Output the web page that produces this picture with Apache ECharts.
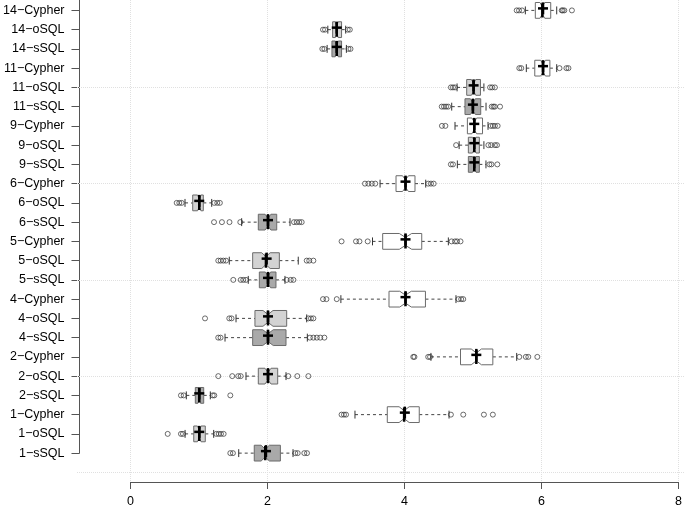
<!DOCTYPE html>
<html>
<head>
<meta charset="utf-8">
<script src="https://cdn.jsdelivr.net/npm/echarts@6/dist/echarts.min.js"></script>
<style>
  html, body { margin: 0; padding: 0; background: #fff; }
  #main { width: 685px; height: 508px; }
</style>
</head>
<body>
<div id="main"></div>
<script>
// categories, bottom to top
const categories = [
  '1−sSQL', '1−oSQL', '1−Cypher',
  '2−sSQL', '2−oSQL', '2−Cypher',
  '4−sSQL', '4−oSQL', '4−Cypher',
  '5−sSQL', '5−oSQL', '5−Cypher',
  '6−sSQL', '6−oSQL', '6−Cypher',
  '9−sSQL', '9−oSQL', '9−Cypher',
  '11−sSQL', '11−oSQL', '11−Cypher',
  '14−sSQL', '14−oSQL', '14−Cypher'
];
// five number summaries
const whiskerLow  = [1.574, 0.794, 3.265, 0.812, 1.68, 4.37, 1.375, 1.535, 3.06, 1.713, 1.437, 3.52, 1.617, 0.793, 3.63, 4.754, 4.78, 4.72, 4.672, 4.75, 5.757, 2.86, 2.87, 5.743];
const lowerQuart  = [1.80, 0.92, 3.735, 0.943, 1.859, 4.80, 1.777, 1.81, 3.76, 1.874, 1.777, 3.668, 1.859, 0.905, 3.862, 4.914, 4.914, 4.90, 4.865, 4.89, 5.88, 2.93, 2.94, 5.888];
const medians     = [1.96, 1.0, 3.98, 1.0, 2.0, 5.03, 2.0, 2.0, 4.0, 2.0, 1.97, 4.0, 2.0, 1.0, 4.0, 5.0, 5.0, 5.0, 4.98, 4.99, 6.0, 3.0, 3.0, 5.99];
const upperQuart  = [2.18, 1.088, 4.20, 1.065, 2.141, 5.27, 2.262, 2.272, 4.29, 2.116, 2.165, 4.236, 2.127, 1.059, 4.138, 5.074, 5.074, 5.12, 5.094, 5.09, 6.10, 3.07, 3.07, 6.112];
const whiskerHigh = [2.364, 1.21, 4.633, 1.161, 2.262, 5.617, 2.572, 2.563, 4.734, 2.247, 2.44, 4.623, 2.32, 1.181, 4.294, 5.17, 5.14, 5.20, 5.171, 5.14, 6.199, 3.14, 3.13, 6.199];
const means       = [1.97, 1.0, 3.99, 1.0, 2.0, 5.03, 2.0, 2.0, 4.0, 2.0, 1.98, 4.0, 2.0, 1.0, 4.0, 5.0, 5.0, 5.0, 4.98, 4.99, 6.0, 3.0, 3.0, 6.0];
const outliers = [
  [1.452, 1.49, 2.397, 2.432, 2.528, 2.567],
  [0.541, 0.734, 0.763, 1.248, 1.283, 1.316, 1.355],
  [3.07, 3.105, 3.135, 4.66, 4.84, 5.14, 5.27],
  [0.734, 0.774, 1.196, 1.219, 1.452],
  [1.277, 1.48, 1.567, 1.603, 2.295, 2.426, 2.587],
  [4.113, 4.13, 4.33, 4.357, 5.655, 5.75, 5.786, 5.917],
  [1.276, 1.31, 2.61, 2.66, 2.71, 2.76, 2.82],
  [1.084, 1.437, 1.47, 2.587, 2.625, 2.66],
  [2.80, 2.85, 3.0, 4.77, 4.81, 4.84],
  [1.495, 1.603, 1.64, 1.68, 2.272, 2.33, 2.37],
  [1.277, 1.312, 1.35, 1.389, 2.563, 2.6, 2.66],
  [3.07, 3.28, 3.33, 3.45, 4.67, 4.72, 4.75, 4.80],
  [1.215, 1.33, 1.44, 1.597, 2.378, 2.417, 2.455, 2.49],
  [0.672, 0.71, 0.745, 1.219, 1.262, 1.30],
  [3.41, 3.46, 3.51, 3.56, 4.33, 4.37, 4.41],
  [4.66, 4.69, 5.22, 5.25, 5.335],
  [4.736, 5.205, 5.245, 5.30, 5.33],
  [4.53, 4.58, 5.24, 5.27, 5.30, 5.34],
  [4.527, 4.56, 4.59, 4.62, 5.254, 5.28, 5.30, 5.375],
  [4.66, 4.69, 4.72, 5.23, 5.26, 5.30],
  [5.655, 5.684, 6.24, 6.34, 6.37],
  [2.79, 2.82, 3.17, 3.20],
  [2.80, 2.83, 3.16, 3.19],
  [5.617, 5.651, 5.695, 6.272, 6.287, 6.31, 6.42]
];
const sampleSize = 100;           // used for the notch width, like R does
const xTicks = [0, 8];            // visible axis range
const hGrid = [0, 5, 10, 15, 20]; // dotted horizontal grid lines

const fills = { sSQL: '#a9a9a9', oSQL: '#d3d3d3', Cypher: '#ffffff' };
const fillOf = name => fills[name.split('−')[1]];

const boxData = categories.map((c, i) => {
  const nh = 1.58 * (upperQuart[i] - lowerQuart[i]) / Math.sqrt(sampleSize);
  return [i + 1, whiskerLow[i], lowerQuart[i], medians[i], upperQuart[i], whiskerHigh[i], means[i], nh];
});
const outData = [];
outliers.forEach((arr, i) => arr.forEach(v => outData.push([v, i + 1])));

const boxHalf = 0.41;

function renderBox(params, api) {
  const p = api.value(0);
  const wl = api.value(1), q1 = api.value(2), med = api.value(3);
  const q3 = api.value(4), wh = api.value(5), mean = api.value(6), nh = api.value(7);
  const h = api.size([0, boxHalf])[1];
  const X = v => api.coord([v, p])[0];
  const y = api.coord([0, p])[1];
  const dash = { stroke: '#444', lineWidth: 1, lineDash: [3, 3] };
  const solid = { stroke: '#333', lineWidth: 1 };
  const fill = fillOf(categories[params.dataIndex]);
  const pts = [
    [X(q1), y - h], [X(med - nh), y - h], [X(med), y - h / 2], [X(med + nh), y - h], [X(q3), y - h],
    [X(q3), y + h], [X(med + nh), y + h], [X(med), y + h / 2], [X(med - nh), y + h], [X(q1), y + h]
  ];
  const ym = y - 2;
  return {
    type: 'group',
    children: [
      { type: 'line', shape: { x1: X(wl), y1: y, x2: X(q1), y2: y }, style: dash },
      { type: 'line', shape: { x1: X(q3), y1: y, x2: X(wh), y2: y }, style: dash },
      { type: 'line', shape: { x1: X(wl), y1: y - h / 2, x2: X(wl), y2: y + h / 2 }, style: solid },
      { type: 'line', shape: { x1: X(wh), y1: y - h / 2, x2: X(wh), y2: y + h / 2 }, style: solid },
      { type: 'polygon', shape: { points: pts }, style: { fill: fill, stroke: '#6b6b6b', lineWidth: 1 } },
      { type: 'line', shape: { x1: X(med), y1: y - h * 0.9, x2: X(med), y2: y + h * 0.9 }, style: { stroke: '#000', lineWidth: 2.5 } },
      { type: 'line', shape: { x1: X(mean) - 5, y1: ym, x2: X(mean) + 5, y2: ym }, style: { stroke: '#000', lineWidth: 2.5 } },
      { type: 'line', shape: { x1: X(mean), y1: ym - 6, x2: X(mean), y2: ym + 6 }, style: { stroke: '#000', lineWidth: 2.5 } }
    ]
  };
}

const chart = echarts.init(document.getElementById('main'));
chart.setOption({
  animation: false,
  textStyle: { fontFamily: 'Liberation Sans, Arial, sans-serif' },
  grid: [
    { left: 77, right: 0, top: 0, height: 482 },          // data area
    { left: 130.5, right: 4.5, top: 0, height: 482 },     // x axis 0..8
    { left: 77, width: 10, top: 0, height: 453.15 }       // category labels
  ],
  xAxis: [
    { gridIndex: 0, type: 'value', min: -0.778, max: 8.065, show: false },
    {
      gridIndex: 1, type: 'value', min: xTicks[0], max: xTicks[1], interval: 2, offset: 2,
      axisLine: { lineStyle: { color: '#555', width: 1 } },
      axisTick: { length: 7, lineStyle: { color: '#555' } },
      axisLabel: { color: '#000', fontSize: 12.5, margin: 11 },
      splitLine: { show: true, lineStyle: { color: '#e0e0e0', type: 'dotted', width: 1 } }
    },
    { gridIndex: 2, type: 'value', show: false }
  ],
  yAxis: [
    { gridIndex: 0, type: 'value', min: -0.5, max: 24.54, show: false },
    { gridIndex: 1, type: 'value', min: 0, max: 1, show: false },
    {
      gridIndex: 2, type: 'value', min: 1, max: 24.54, position: 'left',
      axisLine: { show: true, lineStyle: { color: '#555', width: 1 } },
      axisTick: { show: true, length: 8, lineStyle: { color: '#555' }, customValues: categories.map((c, i) => i + 1) },
      axisLabel: {
        color: '#000', fontSize: 12.5, margin: 15,
        customValues: categories.map((c, i) => i + 1),
        formatter: v => categories[Math.round(v) - 1] || ''
      },
      splitLine: { show: false }
    }
  ],
  series: [
    {
      type: 'custom', xAxisIndex: 0, yAxisIndex: 0, z: 3,
      renderItem: renderBox, data: boxData, silent: true
    },
    {
      type: 'scatter', xAxisIndex: 0, yAxisIndex: 0, z: 4, silent: true,
      symbol: 'circle', symbolSize: 5,
      itemStyle: { color: 'rgba(0,0,0,0)', borderColor: '#333', borderWidth: 0.9 },
      data: outData,
      markLine: {
        silent: true, symbol: 'none', z: 1,
        label: { show: false },
        lineStyle: { color: '#e0e0e0', type: 'dotted', width: 1 },
        data: hGrid.map(v => ({ yAxis: v }))
      }
    }
  ]
});
</script>
</body>
</html>
